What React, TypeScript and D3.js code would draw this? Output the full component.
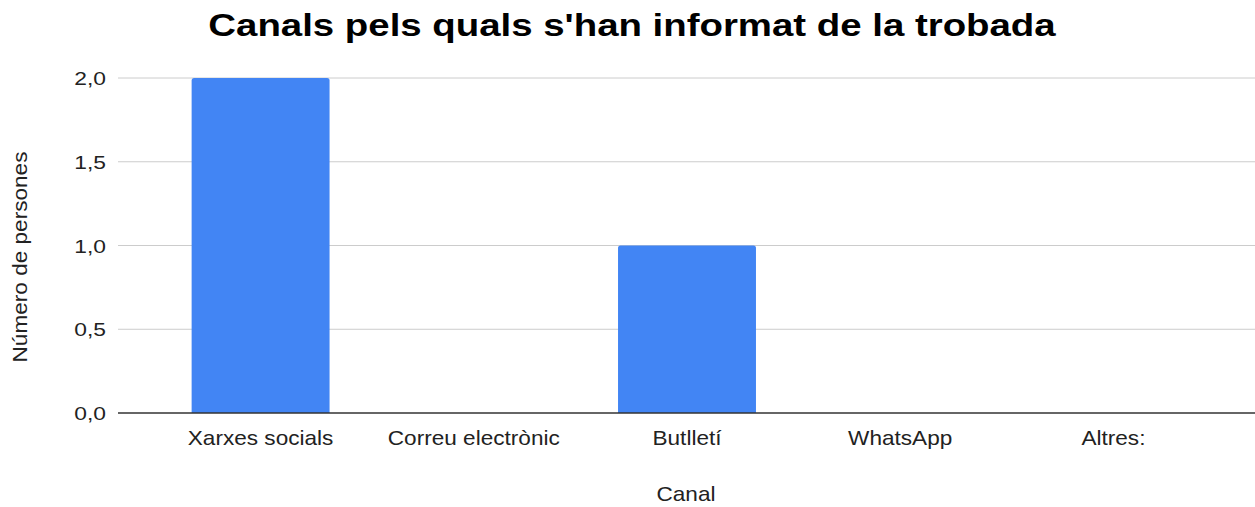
import React from "react";
import * as d3 from "d3";

const categories = ["Xarxes socials", "Correu electrònic", "Butlletí", "WhatsApp", "Altres:"];
const values = [2, 0, 1, 0, 0];
const yTicks = [0, 0.5, 1, 1.5, 2];
const title = "Canals pels quals s'han informat de la trobada";
const xTitle = "Canal";
const yTitle = "Número de persones";

const W = 1255;
const H = 507;
const FONT = "'Liberation Sans', Arial, sans-serif";
const SX_TITLE = 1.2;
const SX_LABEL = 1.13;
const SX_TICK = 1.2;

export default function App() {
  const x = d3
    .scaleBand<string>()
    .domain(categories)
    .range([154, 1220])
    .paddingInner(0.353)
    .paddingOuter(0.1765);
  const y = d3.scaleLinear().domain([0, 2]).range([413, 78]);
  const fmt = (v: number) => v.toFixed(1).replace(".", ",");
  const r = 2.5;

  const barPath = (c: string, v: number) => {
    const x0 = x(c)!;
    const w = x.bandwidth();
    const y0 = y(0);
    const y1 = y(v);
    if (v <= 0) return "";
    return `M${x0},${y0}V${y1 + r}Q${x0},${y1} ${x0 + r},${y1}H${x0 + w - r}Q${x0 + w},${y1} ${x0 + w},${y1 + r}V${y0}Z`;
  };

  return (
    <svg
      width={W}
      height={H}
      style={{ position: "absolute", left: 0, top: 0, background: "#fff" }}
      fontFamily={FONT}
    >
      <text
        transform={`translate(632,36) scale(${SX_TITLE},1)`}
        textAnchor="middle"
        fontSize={32}
        fontWeight="bold"
        fill="#000"
      >
        {title}
      </text>
      {yTicks.map((t) => (
        <g key={t}>
          {t !== 0 && (
            <line x1={118} x2={1255} y1={y(t)} y2={y(t)} stroke="#cccccc" strokeWidth={1} />
          )}
          <text
            transform={`translate(106,${y(t) + 7}) scale(${SX_TICK},1)`}
            textAnchor="end"
            fontSize={19}
            fill="#222"
          >
            {fmt(t)}
          </text>
        </g>
      ))}
      {categories.map((c, i) => (
        <path key={c} d={barPath(c, values[i])} fill="#4285f4" />
      ))}
      <line x1={118} x2={1255} y1={y(0)} y2={y(0)} stroke="#333" strokeWidth={1.5} />
      {categories.map((c) => (
        <text
          key={c}
          transform={`translate(${x(c)! + x.bandwidth() / 2},445) scale(${SX_LABEL},1)`}
          textAnchor="middle"
          fontSize={20}
          fill="#222"
        >
          {c}
        </text>
      ))}
      <text
        transform={`translate(686,501) scale(${SX_LABEL},1)`}
        textAnchor="middle"
        fontSize={20}
        fill="#222"
      >
        {xTitle}
      </text>
      <text
        transform={`translate(27,257) rotate(-90) scale(${SX_LABEL},1)`}
        textAnchor="middle"
        fontSize={20}
        fill="#222"
      >
        {yTitle}
      </text>
    </svg>
  );
}
